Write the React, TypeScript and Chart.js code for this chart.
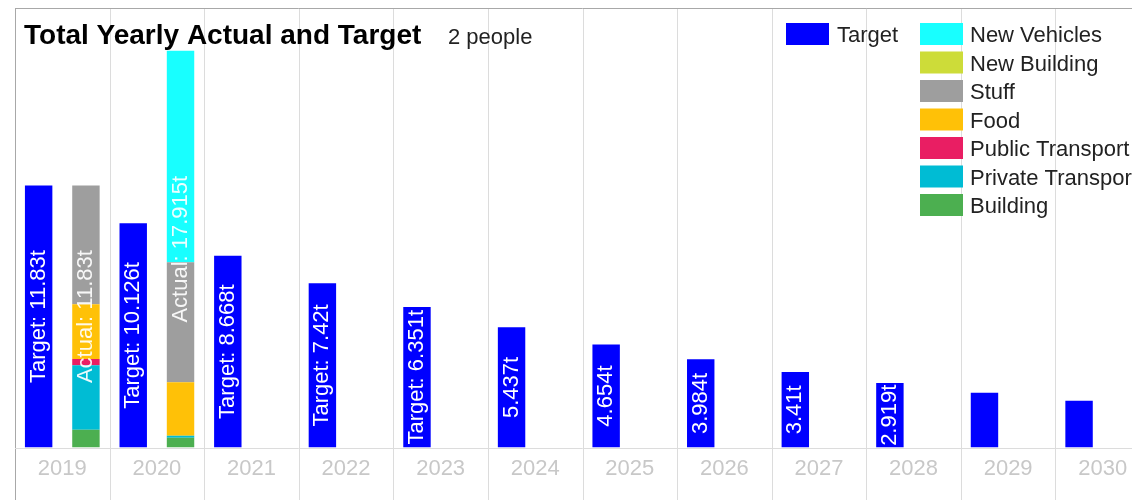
import React, { useEffect, useRef } from "react";
import { Chart, registerables } from "chart.js";

Chart.register(...registerables);

const years = ["2019", "2020", "2021", "2022", "2023", "2024", "2025", "2026", "2027", "2028", "2029", "2030"];
const target = [11.83, 10.126, 8.668, 7.42, 6.351, 5.437, 4.654, 3.984, 3.41, 2.919, 2.48, 2.11];
const targetLabels = ["Target: 11.83t", "Target: 10.126t", "Target: 8.668t", "Target: 7.42t", "Target: 6.351t", "5.437t", "4.654t", "3.984t", "3.41t", "2.919t", "", ""];
const actualLabels = ["Actual: 11.83t", "Actual: 17.915t", "", "", "", "", "", "", "", "", "", ""];

const building = [0.81, 0.45, null, null, null, null, null, null, null, null, null, null];
const privateTransport = [2.91, 0.09, null, null, null, null, null, null, null, null, null, null];
const publicTransport = [0.28, 0, null, null, null, null, null, null, null, null, null, null];
const food = [2.47, 2.41, null, null, null, null, null, null, null, null, null, null];
const stuff = [5.36, 5.42, null, null, null, null, null, null, null, null, null, null];
const newBuilding = [0, 0, null, null, null, null, null, null, null, null, null, null];
const newVehicles = [0, 9.545, null, null, null, null, null, null, null, null, null, null];

const FONT = "'Liberation Sans', Arial, sans-serif";

const actualSeries = [
  { label: "Building", data: building, color: "#4caf50" },
  { label: "Private Transport", data: privateTransport, color: "#00bcd4" },
  { label: "Public Transport", data: publicTransport, color: "#e91e63" },
  { label: "Food", data: food, color: "#ffc107" },
  { label: "Stuff", data: stuff, color: "#9e9e9e" },
  { label: "New Building", data: newBuilding, color: "#cddc39" },
  { label: "New Vehicles", data: newVehicles, color: "#18ffff" },
];

const customPlugin = {
  id: "customDraw",
  beforeDatasetsDraw(chart: any) {
    const ctx = chart.ctx;
    const xs = chart.scales.x;
    const area = chart.chartArea;
    const w = xs.getPixelForValue(1) - xs.getPixelForValue(0);
    ctx.save();
    ctx.lineWidth = 1;
    for (let i = 0; i <= years.length; i++) {
      const x = Math.round(xs.getPixelForValue(i) - w / 2) + 0.5;
      ctx.strokeStyle = i === 0 ? "#a8a8a8" : "#dcdcdc";
      ctx.beginPath();
      ctx.moveTo(x, area.top);
      ctx.lineTo(x, chart.height);
      ctx.stroke();
    }
    ctx.strokeStyle = "#dcdcdc";
    ctx.beginPath();
    ctx.moveTo(area.left, Math.round(area.bottom) + 0.5);
    ctx.lineTo(area.right, Math.round(area.bottom) + 0.5);
    ctx.stroke();
    ctx.strokeStyle = "#a8a8a8";
    ctx.beginPath();
    ctx.moveTo(area.left, Math.round(area.top) + 0.5);
    ctx.lineTo(area.right, Math.round(area.top) + 0.5);
    ctx.stroke();
    ctx.restore();
  },
  afterDatasetsDraw(chart: any) {
    const ctx = chart.ctx;
    ctx.save();
    ctx.font = `22px ${FONT}`;
    ctx.textAlign = "center";
    ctx.textBaseline = "middle";
    const drawRot = (text: string, x: number, y: number, color: string) => {
      if (!text) return;
      ctx.save();
      ctx.translate(x, y);
      ctx.rotate(-Math.PI / 2);
      ctx.fillStyle = color;
      ctx.fillText(text, 0, 0);
      ctx.restore();
    };
    const tMeta = chart.getDatasetMeta(0);
    tMeta.data.forEach((el: any, i: number) => {
      drawRot(targetLabels[i], el.x, (el.y + el.base) / 2, "#ffffff");
    });
    const firstMeta = chart.getDatasetMeta(1);
    const lastIdx = chart.data.datasets.length - 1;
    years.forEach((_, i) => {
      if (!actualLabels[i]) return;
      const base = firstMeta.data[i].base;
      let top = base;
      for (let d = 1; d <= lastIdx; d++) {
        const el = chart.getDatasetMeta(d).data[i];
        if (el && el.y < top) top = el.y;
      }
      drawRot(actualLabels[i], firstMeta.data[i].x, (top + base) / 2, "rgba(255,255,255,0.92)");
    });
    ctx.restore();
  },
  afterDraw(chart: any) {
    const ctx = chart.ctx;
    ctx.save();
    ctx.textAlign = "left";
    ctx.textBaseline = "alphabetic";
    ctx.fillStyle = "#000000";
    ctx.font = `bold 28px ${FONT}`;
    ctx.fillText("Total Yearly Actual and Target", 24, 44);
    ctx.fillStyle = "#222222";
    ctx.font = `22px ${FONT}`;
    ctx.fillText("2 people", 448, 44);

    ctx.font = `22px ${FONT}`;
    ctx.textBaseline = "middle";
    ctx.fillStyle = "#0000ff";
    ctx.fillRect(786, 23, 43, 22);
    ctx.fillStyle = "#222222";
    ctx.fillText("Target", 837, 36);
    const legendOrder = [...actualSeries].reverse();
    legendOrder.forEach((s, i) => {
      const y = 23 + i * 28.5;
      ctx.fillStyle = s.color;
      ctx.fillRect(920, y, 43, 22);
      ctx.fillStyle = "#222222";
      ctx.fillText(s.label, 970, y + 13);
    });
    ctx.restore();
  },
};

export default function App() {
  const ref = useRef<HTMLCanvasElement | null>(null);
  useEffect(() => {
    if (!ref.current) return;
    const datasets: any[] = [
      {
        label: "Target",
        data: target,
        backgroundColor: "#0000ff",
        stack: "target",
        barPercentage: 0.58,
        categoryPercentage: 1.0,
      },
      ...actualSeries.map((s) => ({
        label: s.label,
        data: s.data,
        backgroundColor: s.color,
        stack: "actual",
        barPercentage: 0.58,
        categoryPercentage: 1.0,
      })),
    ];
    const chart = new Chart(ref.current, {
      type: "bar",
      data: { labels: years, datasets },
      options: {
        responsive: false,
        animation: false,
        layout: { padding: { left: 15, right: 0, top: 8, bottom: 10 } },
        plugins: { legend: { display: false }, title: { display: false }, tooltip: { enabled: false } },
        scales: {
          x: {
            stacked: true,
            grid: { display: false, drawTicks: false },
            border: { display: false },
            ticks: { color: "#c8c8c8", font: { family: FONT, size: 22 }, padding: 8, maxRotation: 0 },
          },
          y: {
            stacked: true,
            display: false,
            min: 0,
            max: 19.85,
          },
        },
      },
      plugins: [customPlugin],
    });
    return () => chart.destroy();
  }, []);
  return (
    <div style={{ position: "absolute", left: 0, top: 0, width: 1132, height: 500, overflow: "hidden", background: "#fff" }}>
      <canvas ref={ref} width={1150} height={500} style={{ width: 1150, height: 500, display: "block" }} />
    </div>
  );
}
